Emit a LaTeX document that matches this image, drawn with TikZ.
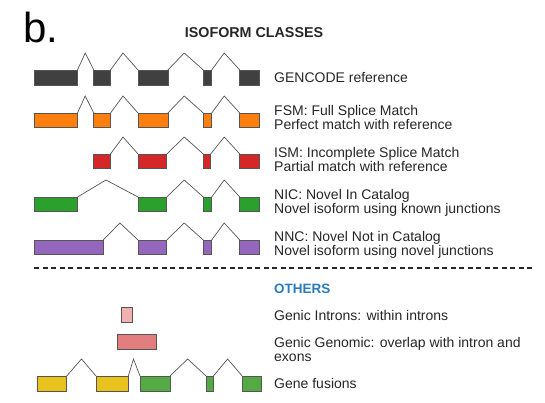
\documentclass[tikz,border=0pt]{standalone}
\usepackage{fontspec}
\setmainfont{Liberation Sans}
\definecolor{cgray}{HTML}{404040}
\definecolor{corange}{HTML}{FF7F0E}
\definecolor{cred}{HTML}{D62728}
\definecolor{cgreen}{HTML}{2CA02C}
\definecolor{cpurple}{HTML}{9467BD}
\definecolor{cyellow}{HTML}{E8C31E}
\definecolor{cgreenb}{HTML}{56AA46}
\definecolor{cpink}{HTML}{F2B1B1}
\definecolor{csalmon}{HTML}{E27E7E}
\definecolor{cblue}{HTML}{2A7BBE}
\definecolor{cedge}{HTML}{555555}
% name, x1, x2, y1, y2, colour
\newcommand\ex[6]{\path (#2,#4) coordinate (#1-nw) (#3,#5) coordinate (#1-se);
  \node[exon,fill=#6,fit=(#1-nw)(#1-se)] (#1) {};}
\usetikzlibrary{fit}
\begin{document}
\begin{tikzpicture}[x=1pt,y=-1pt,
  exon/.style={draw=cedge,line width=0.8pt,inner sep=0pt,outer sep=0pt,rectangle},
  intron/.style={draw=cedge,line width=0.7pt},
  lab/.style={anchor=west,align=left,inner sep=0pt,font=\fontsize{14}{14}\selectfont,text=black!85}]
\useasboundingbox (0,0) rectangle (545,403);
\node[anchor=base west,inner sep=0pt,font=\fontsize{42}{42}\selectfont] (b) at (23,43) {b.};
\node[inner sep=0pt,font=\fontsize{14.3}{16}\selectfont\bfseries,text=black!85] (title) at (254,33) {ISOFORM CLASSES};
% GENCODE
\ex{g1}{34.8}{77.5}{70}{85}{cgray}
\ex{g2}{93.8}{110.5}{70}{85}{cgray}
\ex{g3}{138}{167.9}{70}{85}{cgray}
\ex{g4}{203.3}{211.7}{70}{85}{cgray}
\ex{g5}{239.8}{258.9}{70}{85}{cgray}
\draw[intron] (g1.north east) -- (85.2,53) -- (g2.north west);
\draw[intron] (g2.north east) -- (123,53) -- (g3.north west);
\draw[intron] (g3.north east) -- (184.2,53) -- (g4.north west);
\draw[intron] (g4.north east) -- (224.2,53) -- (g5.north west);
\node[lab] (tg) at (274,78) {GENCODE reference};
% FSM
\ex{f1}{34.8}{77.5}{113}{127}{corange}
\ex{f2}{93.8}{110.5}{113}{127}{corange}
\ex{f3}{138}{167.9}{113}{127}{corange}
\ex{f4}{203.3}{211.7}{113}{127}{corange}
\ex{f5}{239.8}{258.9}{113}{127}{corange}
\draw[intron] (f1.north east) -- (85.2,96) -- (f2.north west);
\draw[intron] (f2.north east) -- (123,96) -- (f3.north west);
\draw[intron] (f3.north east) -- (184.2,96) -- (f4.north west);
\draw[intron] (f4.north east) -- (224.2,96) -- (f5.north west);
\node[lab] (tf) at (274,117) {FSM: Full Splice Match\\Perfect match with reference};
% ISM
\ex{i2}{93.8}{110.5}{154}{168}{cred}
\ex{i3}{138}{166.8}{154}{168}{cred}
\ex{i4}{203.3}{210.6}{154}{168}{cred}
\ex{i5}{239.8}{258.9}{154}{168}{cred}
\draw[intron] (i2.north east) -- (123,137) -- (i3.north west);
\draw[intron] (i3.north east) -- (184.2,137) -- (i4.north west);
\draw[intron] (i4.north east) -- (224.2,137) -- (i5.north west);
\node[lab] (ti) at (274,159) {ISM: Incomplete Splice Match\\Partial match with reference};
% NIC
\ex{n1}{34.4}{77.5}{197}{211.5}{cgreen}
\ex{n3}{138}{166.8}{197}{211.5}{cgreen}
\ex{n4}{203.3}{211.7}{197}{211.5}{cgreen}
\ex{n5}{239.8}{258.9}{197}{211.5}{cgreen}
\draw[intron] (n1.north east) -- (106,180) -- (n3.north west);
\draw[intron] (n3.north east) -- (184.2,180) -- (n4.north west);
\draw[intron] (n4.north east) -- (224.2,180) -- (n5.north west);
\node[lab] (tn) at (274,203) {NIC: Novel In Catalog\\Novel isoform using known junctions};
% NNC
\ex{m1}{34.4}{103.2}{240}{254}{cpurple}
\ex{m3}{138}{166.8}{240}{254}{cpurple}
\ex{m4}{203.3}{211.7}{240}{254}{cpurple}
\ex{m5}{239.8}{258.9}{240}{254}{cpurple}
\draw[intron] (m1.north east) -- (119.9,223) -- (m3.north west);
\draw[intron] (m3.north east) -- (184.2,223) -- (m4.north west);
\draw[intron] (m4.north east) -- (224.2,223) -- (m5.north west);
\node[lab] (tm) at (274,245) {NNC: Novel Not in Catalog\\Novel isoform using novel junctions};
% divider
\coordinate (dl) at (34,268);
\coordinate (dr) at (532,268);
\draw[line width=2pt,dash pattern=on 5pt off 3.5pt,black!85] (dl) -- (dr);
% OTHERS
\node[lab,font=\fontsize{13.5}{14}\selectfont\bfseries,text=cblue] (to) at (274,289) {OTHERS};
\ex{gi}{121}{132.3}{307}{322}{cpink}
\node[lab] (tgi) at (274,315) {Genic Introns: within introns};
\ex{gg}{117.3}{156}{334}{349}{csalmon}
\node[lab] (tgg) at (274,349) {Genic Genomic: overlap with intron and\\exons};
\ex{u1}{37.3}{66.7}{376}{391}{cyellow}
\ex{u2}{96}{128.3}{376}{391}{cyellow}
\ex{u3}{140}{170}{376}{391}{cgreenb}
\ex{u4}{206.1}{213.4}{376}{391}{cgreenb}
\ex{u5}{242.2}{261.4}{376}{391}{cgreenb}
\draw[intron] (u1.north east) -- (81.5,359) -- (u2.north west);
\draw[intron] (u2.north east) -- (133.5,359) -- (u3.north west);
\draw[intron] (u3.north east) -- (187.7,359) -- (u4.north west);
\draw[intron] (u4.north east) -- (227.6,359) -- (u5.north west);
\node[lab] (tu) at (274,383) {Gene fusions};
\end{tikzpicture}
\end{document}
